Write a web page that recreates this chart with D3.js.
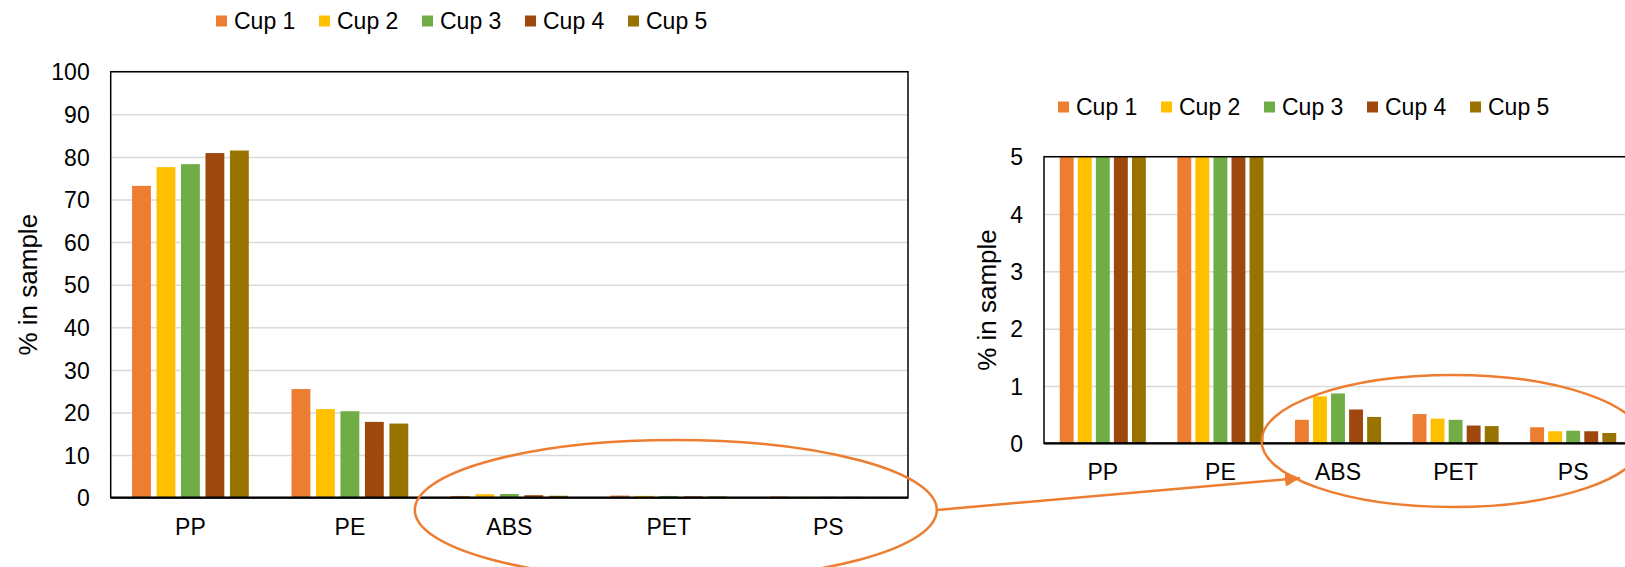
<!DOCTYPE html>
<html>
<head>
<meta charset="utf-8">
<script src="https://cdn.jsdelivr.net/npm/d3@7/dist/d3.min.js"></script>
<style>
  body { margin: 0; background: #fff; }
  svg { display: block; font-family: "Liberation Sans", Arial, sans-serif; }
  .grid line { stroke: #d9d9d9; stroke-width: 1.5; }
  .grid path { display: none; }
  .axis path, .axis line { display: none; }
  .axis text { fill: #000; font-size: 23px; }
  .frame { fill: none; stroke: #000; stroke-width: 1.5; }
  .baseline { stroke: #000; stroke-width: 2.2; }
  .ytitle { font-size: 26px; fill: #000; }
  .key text { font-size: 23px; fill: #000; }
  .callout { fill: none; stroke: #ed7d31; stroke-width: 2.5; }
</style>
</head>
<body>
<svg id="chart" width="1625" height="567"></svg>
<script>
// data (% in sample)
var categories = ["PP", "PE", "ABS", "PET", "PS"];
var cups = ["Cup 1", "Cup 2", "Cup 3", "Cup 4", "Cup 5"];
var cup1 = [73.2, 25.5, 0.41, 0.51, 0.28];
var cup2 = [77.6, 20.8, 0.82, 0.43, 0.21];
var cup3 = [78.3, 20.3, 0.87, 0.41, 0.22];
var cup4 = [80.9, 17.8, 0.59, 0.31, 0.21];
var cup5 = [81.5, 17.4, 0.46, 0.30, 0.18];
var fullTicks = [0, 10, 20, 30, 40, 50, 60, 70, 80, 90, 100];
var zoomTicks = [0, 1, 2, 3, 4, 5];
var colors = ["#ed7d31", "#ffc000", "#70ad47", "#9e480e", "#997300"];

var series = [cup1, cup2, cup3, cup4, cup5];
var rows = categories.map(function(c, i) {
  return { name: c, values: cups.map(function(cup, j) { return { cup: cup, amt: series[j][i] }; }) };
});

var svg = d3.select("#chart");
var colorScale = d3.scaleOrdinal().domain(cups).range(colors);

var renderPanel = function(config) {
  var w = config.right - config.left;
  var h = config.bottom - config.top;

  var g = svg.append("g").attr("transform", "translate(" + config.left + "," + config.top + ")");

  var x0 = d3.scaleBand().domain(categories).range([0, w]);
  var edge = x0.bandwidth() * 0.134;
  var x1 = d3.scaleBand().domain(cups).range([edge, x0.bandwidth() - edge]).paddingInner(0.23);

  var yScale = d3.scaleLinear().domain([0, config.max]).range([h, 0]);

  // grid
  g.append("g")
    .attr("class", "grid")
    .call(d3.axisLeft(yScale).tickValues(config.ticks).tickSize(-w).tickFormat(""));

  // clip for the zoomed panel
  var clipId = "clip-" + config.id;
  g.append("clipPath").attr("id", clipId)
    .append("rect").attr("x", 0).attr("y", 0).attr("width", w).attr("height", h);

  g.append("g")
    .attr("clip-path", "url(#" + clipId + ")")
    .selectAll("g")
    .data(rows)
    .enter()
    .append("g")
    .attr("transform", function(d) { return "translate(" + x0(d.name) + ",0)"; })
    .selectAll("rect")
    .data(function(d) { return d.values; })
    .enter()
    .append("rect")
    .attr("x", function(d) { return x1(d.cup); })
    .attr("width", x1.bandwidth())
    .attr("y", function(d) { return yScale(d.amt); })
    .attr("height", function(d) { return h - yScale(d.amt); })
    .attr("fill", function(d) { return colorScale(d.cup); });

  g.append("rect").attr("class", "frame")
    .attr("x", 0).attr("y", 0).attr("width", w).attr("height", h);
  g.append("line").attr("class", "baseline")
    .attr("x1", 0).attr("x2", w).attr("y1", h).attr("y2", h);

  // y axis labels
  g.append("g")
    .attr("class", "axis y")
    .call(d3.axisLeft(yScale).tickValues(config.ticks).tickSize(0).tickPadding(21).tickFormat(d => d))
    .selectAll("text").attr("dy", "0.36em");

  // x axis labels
  g.append("g")
    .attr("class", "axis x")
    .selectAll("text")
    .data(categories)
    .enter()
    .append("text")
    .attr("x", function(d) { return x0(d) + x0.bandwidth() / 2; })
    .attr("y", h + 37)
    .attr("text-anchor", "middle")
    .style("font-size", "23px")
    .text(function(d) { return d; });

  g.append("text")
    .attr("class", "ytitle")
    .attr("transform", "translate(" + config.titleX + "," + (h / 2) + ") rotate(-90)")
    .attr("text-anchor", "middle")
    .attr("dy", "0.35em")
    .text("% in sample");

  // legend
  var key = svg.append("g")
    .attr("class", "key")
    .attr("transform", "translate(" + config.keyX + "," + config.keyY + ")")
    .selectAll("g")
    .data(cups)
    .enter()
    .append("g")
    .attr("transform", function(d, i) { return "translate(" + (i * 103) + ",0)"; });

  key.append("rect")
    .attr("x", 0).attr("y", -5.5).attr("width", 11).attr("height", 11)
    .attr("fill", function(d) { return colorScale(d); });
  key.append("text")
    .attr("x", 18).attr("dy", "0.36em")
    .text(function(d) { return d; });

  return { x0: x0, y: yScale, left: config.left, top: config.top };
};

var big = renderPanel({
  id: "full", left: 110.7, right: 908, top: 71.7, bottom: 497.7,
  max: 100, ticks: fullTicks, titleX: 28 - 110.7, keyX: 216, keyY: 21
});

var zoom = renderPanel({
  id: "zoom", left: 1044, right: 1632, top: 156.7, bottom: 443.3,
  max: 5, ticks: zoomTicks, titleX: 986.7 - 1044, keyX: 1058, keyY: 107
});

// callouts around the small categories
var bigMid = big.left + big.x0("PET") + big.x0.bandwidth() / 2;
svg.append("ellipse").attr("class", "callout")
  .attr("cx", bigMid + 7).attr("cy", 510).attr("rx", 261).attr("ry", 70);

var zoomMid = zoom.left + zoom.x0("PET") + zoom.x0.bandwidth() / 2;
svg.append("ellipse").attr("class", "callout")
  .attr("cx", zoomMid - 3).attr("cy", 441).attr("rx", 191).attr("ry", 66);

svg.append("defs").append("marker")
  .attr("id", "head")
  .attr("viewBox", "0 0 10 10")
  .attr("refX", 10).attr("refY", 5)
  .attr("markerWidth", 6).attr("markerHeight", 6)
  .attr("markerUnits", "strokeWidth")
  .attr("orient", "auto")
  .append("path")
  .attr("d", "M0,0 L10,5 L0,10 z")
  .attr("fill", "#ed7d31");

svg.append("line").attr("class", "callout")
  .attr("x1", 937).attr("y1", 510)
  .attr("x2", 1300).attr("y2", 478)
  .attr("marker-end", "url(#head)");
</script>
</body>
</html>
